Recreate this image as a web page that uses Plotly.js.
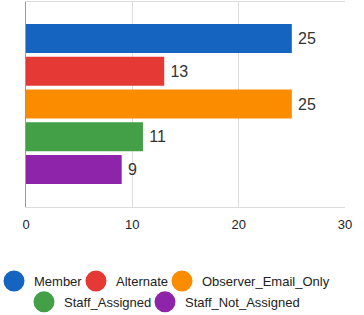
<!DOCTYPE html>
<html>
<head>
<meta charset="utf-8">
<script src="https://cdn.plot.ly/plotly-3.0.1.min.js"></script>
<style>html,body{margin:0;padding:0;background:#fff;}#chart{width:364px;height:315px;}</style>
</head>
<body>
<div id="chart"></div>
<script>
const categories = ['Member', 'Alternate', 'Observer_Email_Only', 'Staff_Assigned', 'Staff_Not_Assigned'];
const values = [25, 13, 25, 11, 9];
const xTicks = [0, 10, 20, 30];

const colors = ['#1565C0', '#E53935', '#FB8C00', '#43A047', '#8E24AA'];
const legendNames = ['legend', 'legend2', 'legend3', 'legend4', 'legend5'];
const legendPos = [
  {x: -0.1003, y: -0.361},
  {x: 0.1567, y: -0.361},
  {x: 0.4263, y: -0.361},
  {x: -0.0063, y: -0.463},
  {x: 0.373, y: -0.463}
];

const traces = [];
categories.forEach((c, i) => {
  traces.push({
    type: 'bar', orientation: 'h',
    y: [c], x: [values[i]], name: c,
    marker: {color: colors[i], line: {width: 0}},
    text: [values[i]], texttemplate: '\u2009%{x}', textposition: 'outside',
    textfont: {size: 16, color: '#333'},
    cliponaxis: false, showlegend: false, hoverinfo: 'skip'
  });
});
categories.forEach((c, i) => {
  traces.push({
    type: 'scatter', mode: 'markers', x: [null], y: [null], name: c,
    marker: {color: colors[i], size: 22, symbol: 'circle', line: {color: colors[i], width: 5}},
    legend: legendNames[i], showlegend: true, hoverinfo: 'skip'
  });
});

const layout = {
  width: 364, height: 315,
  margin: {l: 26, r: 19, t: 2, b: 108, autoexpand: false},
  paper_bgcolor: '#fff', plot_bgcolor: '#fff',
  font: {family: '"Liberation Sans", Arial, sans-serif', size: 13, color: '#222'},
  barmode: 'overlay', bargap: 0.115,
  hovermode: false,
  xaxis: {
    range: [0, 30], tickvals: xTicks, ticks: '', showgrid: true, gridcolor: '#ddd',
    showline: true, mirror: true, linecolor: '#ddd', zeroline: false,
    ticklabelstandoff: 5,
    tickfont: {size: 13, color: '#222'}, fixedrange: true
  },
  yaxis: {
    type: 'category', categoryarray: categories, categoryorder: 'array',
    range: [5.145, -1.115], showticklabels: false, ticks: '', showgrid: false,
    showline: true, linecolor: '#999', zeroline: false, fixedrange: true
  }
};
legendNames.forEach((ln, i) => {
  layout[ln] = {
    orientation: 'h', xref: 'paper', yref: 'paper',
    x: legendPos[i].x, y: legendPos[i].y, xanchor: 'left', yanchor: 'middle',
    bgcolor: 'rgba(0,0,0,0)', borderwidth: 0,
    font: {size: 13, color: '#222'}, itemsizing: 'trace'
  };
});

Plotly.newPlot('chart', traces, layout, {displayModeBar: false, staticPlot: true});
</script>
</body>
</html>
